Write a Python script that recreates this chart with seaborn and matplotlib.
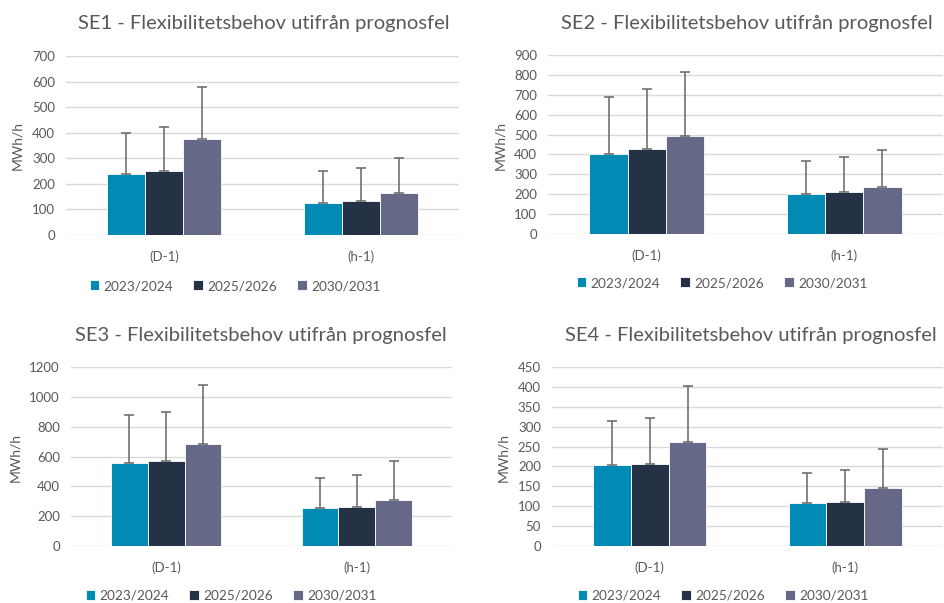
import matplotlib
matplotlib.use("Agg")
import matplotlib.pyplot as plt
import seaborn as sns
import pandas as pd

sns.set_style("white")
plt.rcParams['font.family'] = ['Lato', 'DejaVu Sans']

seasons = ['2023/2024', '2025/2026', '2030/2031']
horizons = ['(D-1)', '(h-1)']
colors = ['#008ab4', '#253144', '#656887']

# mean values per area, [D-1 x 3 seasons, h-1 x 3 seasons]
se1_values = [238, 252, 376, 126, 134, 166]
se1_err = [162, 170, 204, 124, 128, 134]
se2_values = [403, 427, 495, 199, 209, 236]
se2_err = [286, 301, 321, 166, 176, 184]
se3_values = [555, 571, 687, 254, 263, 310]
se3_err = [322, 328, 390, 205, 214, 261]
se4_values = [204, 207, 262, 108, 110, 147]
se4_err = [111, 115, 139, 76, 80, 98]

panels = [
    ('SE1', se1_values, se1_err, 700, 100),
    ('SE2', se2_values, se2_err, 900, 100),
    ('SE3', se3_values, se3_err, 1200, 200),
    ('SE4', se4_values, se4_err, 450, 50),
]

W, H = 945, 603
# axes boxes in pixels: left, top, right, bottom
boxes = [(66, 56, 459, 235), (548, 55, 943, 234),
         (71, 367, 452, 546), (552, 367, 943, 546)]
title_pos = [(264, 24), (747, 24), (261, 335), (751, 335)]
ylabel_pos = [(17, 146), (500, 145), (15, 457), (503, 457)]
legend_pos = [(235, 286), (722, 283), (231, 596), (723, 596)]

fig = plt.figure(figsize=(W / 100, H / 100), dpi=100)
txt = '#595959'

for (name, vals, errs, ymax, step), box, tp, yp, lp in zip(
        panels, boxes, title_pos, ylabel_pos, legend_pos):
    l, t, r, b = box
    ax = fig.add_axes([l / W, 1 - b / H, (r - l) / W, (b - t) / H])
    df = pd.DataFrame({
        'horizon': [h for h in horizons for _ in seasons],
        'season': seasons * len(horizons),
        'value': vals,
        'err': errs,
    })
    sns.barplot(data=df, x='horizon', y='value', hue='season',
                palette=colors, width=0.58, ax=ax, errorbar=None,
                edgecolor='white', linewidth=0.6, saturation=1)
    # one-sided error bars on top of each bar
    lookup = {(row.horizon, row.season): row.err for row in df.itertuples()}
    for container, season in zip(ax.containers, seasons):
        for bar, hz in zip(container, horizons):
            x = bar.get_x() + bar.get_width() / 2
            h = bar.get_height()
            ax.errorbar(x, h, yerr=[[0], [lookup[(hz, season)]]],
                        fmt='none', ecolor='#666666', elinewidth=1.1,
                        capsize=3.5, capthick=1.1, zorder=3)
    ax.set_ylim(0, ymax)
    ax.set_yticks(range(0, ymax + 1, step))
    ax.set_xlim(-0.5, 1.5)
    ax.grid(axis='y', color='#d9d9d9', linewidth=1)
    ax.set_axisbelow(True)
    for s in ax.spines.values():
        s.set_visible(False)
    ax.tick_params(axis='both', length=0, labelsize=9.5, labelcolor=txt)
    ax.tick_params(axis='x', pad=11)
    ax.tick_params(axis='y', pad=8)
    ax.set_xlabel('')
    ax.set_ylabel('')
    ax.get_legend().remove()

    fig.text(tp[0] / W, 1 - tp[1] / H,
             f'{name} - Flexibilitetsbehov utifrån prognosfel',
             ha='center', va='center', fontsize=14.5, color=txt)
    fig.text(yp[0] / W, 1 - yp[1] / H, 'MWh/h', rotation=90,
             ha='center', va='center', fontsize=10, color=txt)
    handles, labels = ax.get_legend_handles_labels()
    fig.legend(handles, labels, loc='center', ncol=3, frameon=False,
               bbox_to_anchor=(lp[0] / W, 1 - lp[1] / H),
               fontsize=9.8, labelcolor=txt, handlelength=0.7,
               handleheight=0.7, handletextpad=0.3, columnspacing=1.5)

fig.savefig('out.png', dpi=100)
